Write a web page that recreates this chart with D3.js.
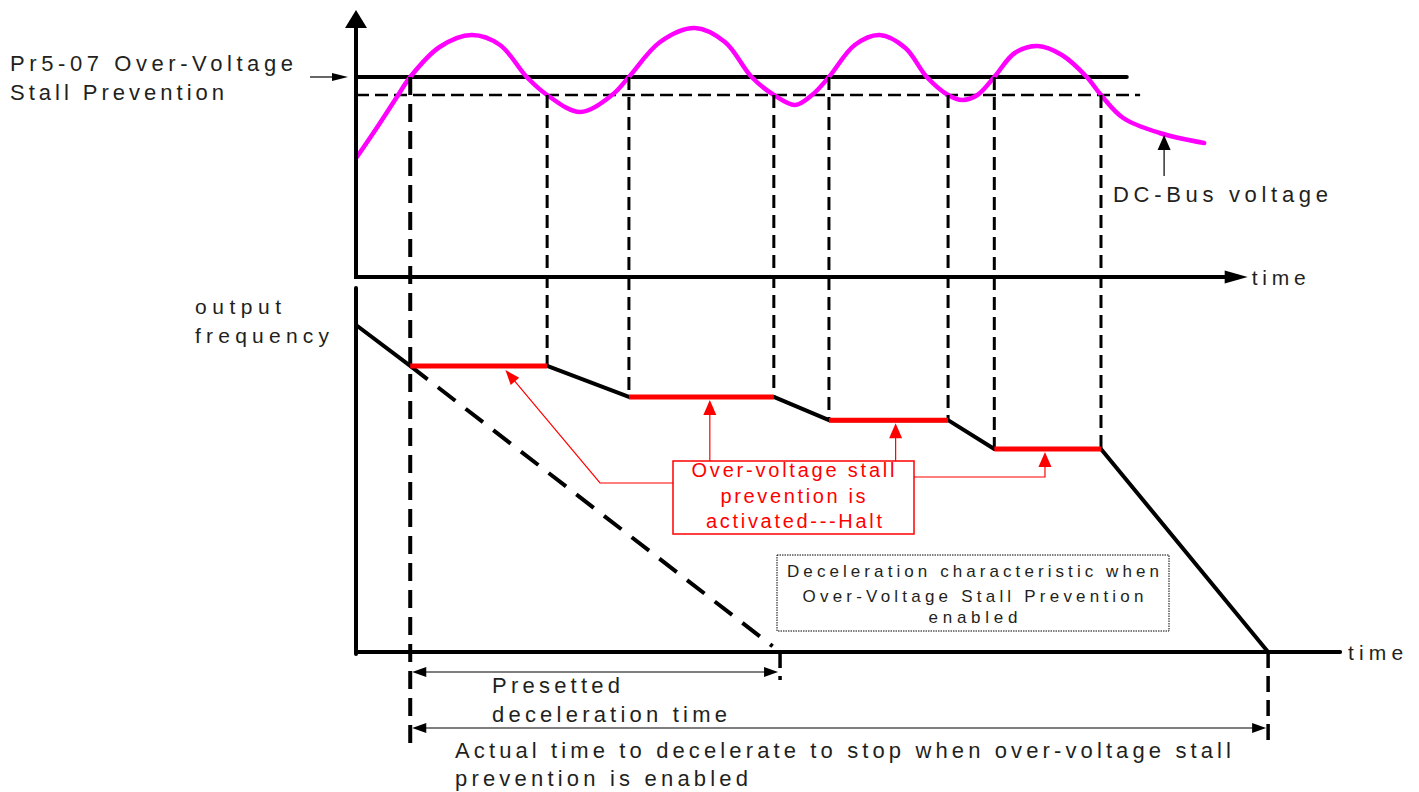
<!DOCTYPE html>
<html>
<head>
<meta charset="utf-8">
<script src="https://cdn.jsdelivr.net/npm/d3@7"></script>
<style>
  html, body { margin: 0; padding: 0; background: #fff; }
  svg { display: block; }
  text { font-family: "Liberation Sans", Arial, sans-serif; fill: #231f20; }
</style>
</head>
<body>
<svg id="chart" width="1419" height="792"></svg>
<script>
// ---------------- DATA ----------------
// DC-bus voltage curve (time units, voltage in % of axis)
const busTime = [0.1, 2.4, 4.6, 6.1, 9.4, 13.0, 16.2, 19.2, 21.5, 25.2, 28.8, 30.7, 34.2, 38.1, 41.5, 44.5, 47.0, 49.4, 51.3, 53.2, 56.1, 58.9, 61.8, 64.2, 66.6, 68.2, 69.9, 71.8, 74.1, 76.7, 79.4, 82.2, 83.8, 86.3, 90.4, 95.4];
const busVolt = [48, 60, 72, 80, 92, 96.8, 92.8, 80, 72.8, 66, 72.8, 80, 94, 99.6, 94, 80, 72.8, 68.8, 72.8, 80, 92.8, 96.8, 91.6, 80, 72.8, 70.8, 72.8, 80, 89.6, 92.4, 88.8, 80, 72.8, 63.6, 57.6, 53.6];
const stallLevel = 80;       // Pr5-07 Over-Voltage Stall Prevention level
const recoverLevel = 72.8;   // release level (dashed)
const stallLineEnd = 86.7;
const recoverLineEnd = 88.2;

// halt intervals
const haltStart = [6.1, 30.7, 53.2, 71.8];
const haltEnd   = [21.5, 47.0, 66.6, 83.8];
const haltFreq  = [87.5, 78.0, 70.9, 62.1];
const leaderTime = [16.8, 39.8, 60.7, 77.5];

// output frequency
const freqTime  = [0, 6.1, 21.5, 30.7, 47.0, 53.2, 66.6, 71.8, 83.8, 102.6];
const freqValue = [100, 87.5, 87.5, 78.0, 78.0, 70.9, 70.9, 62.1, 62.1, 0];
const presetEnd = 47.7;
const stopTime = 102.6;
const topAxisEnd = 100.3;
const bottomAxisEnd = 110.7;

// texts
const leftLabel = ["Pr5-07 Over-Voltage", "Stall Prevention"];
const busLabel = "DC-Bus voltage";
const timeLabel = "time";
const freqLabel = ["output", "frequency"];
const redLabel = ["Over-voltage stall", "prevention is", "activated---Halt"];
const boxLabel = ["Deceleration characteristic when", "Over-Voltage Stall Prevention", "enabled"];
const presetLabel = ["Presetted", "deceleration time"];
const actualLabel = ["Actual time to decelerate to stop when over-voltage stall", "prevention is enabled"];

// ---------------- SCALES ----------------
const svg = d3.select("#chart");
const x = d3.scaleLinear().domain([0, 100]).range([356, 1245]);
const yV = d3.scaleLinear().domain([0, 100]).range([277, 27]);
const yF = d3.scaleLinear().domain([0, 100]).range([652, 325]);

const RED = "#ff0000", MAG = "#ff00ff";

function arrowHead(g, tx, ty, angle, len, half, color) {
  const bx = tx - len * Math.cos(angle), by = ty - len * Math.sin(angle);
  const px = -Math.sin(angle) * half, py = Math.cos(angle) * half;
  g.append("path")
    .attr("d", `M${tx},${ty}L${bx + px},${by + py}L${bx - px},${by - py}Z`)
    .attr("fill", color);
}
function txt(str, xx, yy, size, len, anchor, color) {
  const t = svg.append("text").attr("x", xx).attr("y", yy)
    .attr("font-size", size).text(str)
    .attr("textLength", len).attr("lengthAdjust", "spacing");
  if (anchor) t.attr("text-anchor", anchor);
  if (color) t.style("fill", color);
  return t;
}

// ---------------- TOP PANEL ----------------
const topG = svg.append("g");
topG.append("line").attr("x1", x(0)).attr("x2", x(stallLineEnd))
  .attr("y1", yV(stallLevel)).attr("y2", yV(stallLevel))
  .attr("stroke", "#000").attr("stroke-width", 4).attr("stroke-linecap", "round");
topG.append("line").attr("x1", x(0)).attr("x2", x(recoverLineEnd))
  .attr("y1", yV(recoverLevel)).attr("y2", yV(recoverLevel))
  .attr("stroke", "#000").attr("stroke-width", 2.5).attr("stroke-dasharray", "13,6");

haltStart.forEach((t, i) => {
  const first = i === 0;
  svg.append("line").attr("x1", x(t)).attr("x2", x(t))
    .attr("y1", yV(stallLevel)).attr("y2", first ? 746 : yF(haltFreq[i]))
    .attr("stroke", "#000").attr("stroke-width", first ? 4 : 3)
    .attr("stroke-dasharray", first ? "18,9" : "13,7");
});
haltEnd.forEach((t, i) => {
  svg.append("line").attr("x1", x(t)).attr("x2", x(t))
    .attr("y1", yV(recoverLevel)).attr("y2", yF(haltFreq[i]))
    .attr("stroke", "#000").attr("stroke-width", 3).attr("stroke-dasharray", "13,7");
});

const busPts = busTime.map((t, i) => [x(t), yV(busVolt[i])]);
topG.append("path").attr("d", d3.line().curve(d3.curveCatmullRom.alpha(0.5))(busPts))
  .attr("fill", "none").attr("stroke", MAG).attr("stroke-width", 4.5).attr("stroke-linecap", "round");

topG.append("line").attr("x1", x(0)).attr("x2", x(0)).attr("y1", yV(0) + 2).attr("y2", 24)
  .attr("stroke", "#000").attr("stroke-width", 4);
arrowHead(topG, x(0), 10, -Math.PI / 2, 18, 11, "#000");
topG.append("line").attr("x1", x(0) - 2).attr("x2", x(topAxisEnd) - 10).attr("y1", yV(0)).attr("y2", yV(0))
  .attr("stroke", "#000").attr("stroke-width", 4);
arrowHead(topG, x(topAxisEnd), yV(0), 0, 23, 6.5, "#000");
txt(timeLabel, x(topAxisEnd) + 4, yV(0) + 8, 21, 54);

txt(leftLabel[0], 10, 71, 22, 283);
txt(leftLabel[1], 10, 100, 22, 214);
topG.append("line").attr("x1", 310).attr("x2", 335).attr("y1", yV(stallLevel)).attr("y2", yV(stallLevel))
  .attr("stroke", "#000").attr("stroke-width", 1.2);
arrowHead(topG, x(0) - 8, yV(stallLevel), 0, 16, 4, "#000");

const busPtT = 90.9;
topG.append("line").attr("x1", x(busPtT)).attr("x2", x(busPtT)).attr("y1", 176).attr("y2", 145)
  .attr("stroke", "#000").attr("stroke-width", 1.2);
arrowHead(topG, x(busPtT), 135, -Math.PI / 2, 15, 6.5, "#000");
txt(busLabel, 1113, 202, 22, 215);

// ---------------- BOTTOM PANEL ----------------
const bot = svg.append("g");
bot.append("line").attr("x1", x(freqTime[1])).attr("y1", yF(freqValue[1]))
  .attr("x2", x(freqTime[1] + (presetEnd - freqTime[1]) * 0.98))
  .attr("y2", yF(freqValue[1] * 0.02))
  .attr("stroke", "#000").attr("stroke-width", 4).attr("stroke-dasharray", "22,13");

const fPts = freqTime.map((t, i) => [x(t), yF(freqValue[i])]);
bot.append("path").attr("d", d3.line()(fPts)).attr("fill", "none")
  .attr("stroke", "#000").attr("stroke-width", 4).attr("stroke-linejoin", "round");
haltStart.forEach((t, i) => {
  bot.append("line").attr("x1", x(t)).attr("x2", x(haltEnd[i]))
    .attr("y1", yF(haltFreq[i])).attr("y2", yF(haltFreq[i]))
    .attr("stroke", RED).attr("stroke-width", 5);
});

bot.append("line").attr("x1", x(0)).attr("x2", x(0)).attr("y1", 288).attr("y2", yF(0) + 2)
  .attr("stroke", "#000").attr("stroke-width", 4).attr("stroke-linecap", "round");
bot.append("line").attr("x1", x(0)).attr("x2", x(bottomAxisEnd)).attr("y1", yF(0)).attr("y2", yF(0))
  .attr("stroke", "#000").attr("stroke-width", 4).attr("stroke-linecap", "round");
txt(timeLabel, x(bottomAxisEnd) + 8, yF(0) + 8, 21, 55);
txt(freqLabel[0], 195, 314, 21, 86);
txt(freqLabel[1], 195, 343, 21, 134);

bot.append("line").attr("x1", x(presetEnd)).attr("x2", x(presetEnd)).attr("y1", yF(0)).attr("y2", 690)
  .attr("stroke", "#000").attr("stroke-width", 3.5).attr("stroke-dasharray", "16,8,4,100");
bot.append("line").attr("x1", x(stopTime)).attr("x2", x(stopTime)).attr("y1", yF(0)).attr("y2", 746)
  .attr("stroke", "#000").attr("stroke-width", 3.5).attr("stroke-dasharray", "16,8");

function dimArrow(t0, t1, yy) {
  bot.append("line").attr("x1", x(t0) + 6).attr("x2", x(t1) - 6).attr("y1", yy).attr("y2", yy)
    .attr("stroke", "#000").attr("stroke-width", 1.2);
  arrowHead(bot, x(t0) + 2, yy, Math.PI, 14, 5, "#000");
  arrowHead(bot, x(t1) - 2, yy, 0, 14, 5, "#000");
}
dimArrow(haltStart[0], presetEnd, 672);
dimArrow(haltStart[0], stopTime, 728);
txt(presetLabel[0], 492, 693, 22, 128);
txt(presetLabel[1], 492, 722, 22, 235);
txt(actualLabel[0], 455, 758, 22, 776);
txt(actualLabel[1], 455, 786, 22, 293);

const rb = { x0: 673, y0: 461, x1: 914, y1: 534 };
const lead = svg.append("g").attr("stroke", RED).attr("stroke-width", 1.2).attr("fill", "none");
const l1tip = [x(leaderTime[0]), yF(haltFreq[0]) + 4];
const l1ang = Math.atan2(l1tip[1] - 483, l1tip[0] - 600);
lead.append("path").attr("d", `M${rb.x0},483H600L${l1tip[0] - 12 * Math.cos(l1ang)},${l1tip[1] - 12 * Math.sin(l1ang)}`);
arrowHead(svg, l1tip[0], l1tip[1], l1ang, 15, 5.5, RED);
lead.append("path").attr("d", `M${x(leaderTime[1])},${rb.y0}V${yF(haltFreq[1]) + 14}`);
arrowHead(svg, x(leaderTime[1]), yF(haltFreq[1]) + 3, -Math.PI / 2, 15, 6.5, RED);
lead.append("path").attr("d", `M${x(leaderTime[2])},${rb.y0}V${yF(haltFreq[2]) + 14}`);
arrowHead(svg, x(leaderTime[2]), yF(haltFreq[2]) + 3, -Math.PI / 2, 15, 6.5, RED);
lead.append("path").attr("d", `M${rb.x1},477H${x(leaderTime[3])}V${yF(haltFreq[3]) + 14}`);
arrowHead(svg, x(leaderTime[3]), yF(haltFreq[3]) + 3, -Math.PI / 2, 15, 6.5, RED);

svg.append("rect").attr("x", rb.x0).attr("y", rb.y0).attr("width", rb.x1 - rb.x0).attr("height", rb.y1 - rb.y0)
  .attr("fill", "#fff").attr("stroke", RED).attr("stroke-width", 1.5);
txt(redLabel[0], 793, 477, 20, 203, "middle", RED);
txt(redLabel[1], 793, 503, 20, 145, "middle", RED);
txt(redLabel[2], 794, 528, 20, 176, "middle", RED);

svg.append("rect").attr("x", 777).attr("y", 555).attr("width", 392).attr("height", 76)
  .attr("fill", "#fff").attr("stroke", "#000").attr("stroke-width", 1).attr("stroke-dasharray", "1.5,1");
txt(boxLabel[0], 973, 577, 17, 372, "middle");
txt(boxLabel[1], 973, 602, 17, 341, "middle");
txt(boxLabel[2], 973, 623, 17, 89, "middle");
</script>
</body>
</html>
